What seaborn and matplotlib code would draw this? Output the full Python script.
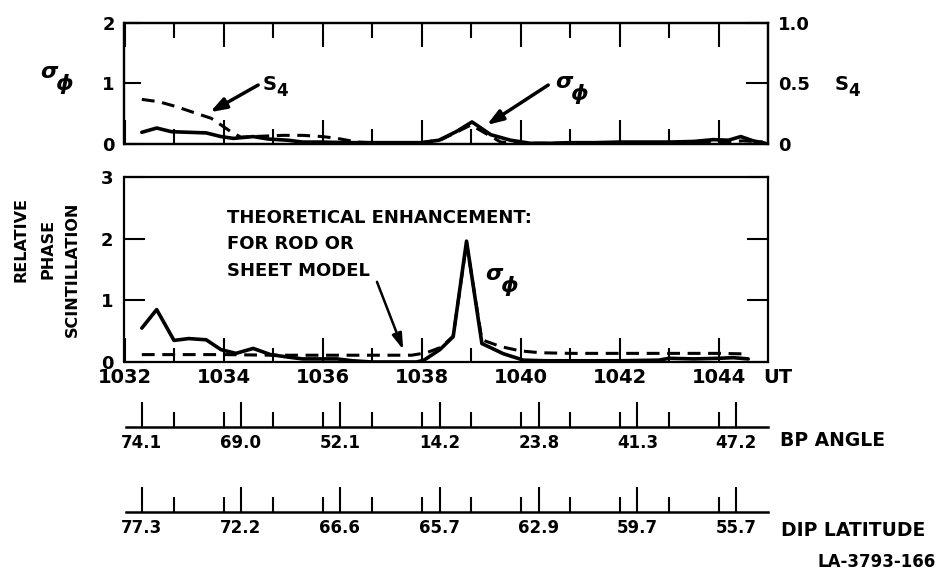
import matplotlib
matplotlib.use("Agg")
import matplotlib.pyplot as plt
import seaborn as sns

# ---------------- data ----------------
# Top panel: measured sigma_phi (left axis, 0-2) and S4 (right axis, 0-1)
top_sigma_t = [1032.35, 1032.65, 1032.95, 1033.3, 1033.65, 1033.95, 1034.2, 1034.6, 1034.9,
               1035.3, 1035.6, 1036.0, 1036.5, 1037.0, 1037.5, 1038.0, 1038.35, 1038.7,
               1039.02, 1039.4, 1039.8, 1040.2, 1040.6, 1041.0, 1041.5, 1042.0, 1042.5,
               1043.0, 1043.5, 1043.9, 1044.2, 1044.45, 1044.7, 1044.95]
top_sigma = [0.20, 0.27, 0.21, 0.20, 0.19, 0.13, 0.10, 0.13, 0.09,
             0.07, 0.04, 0.04, 0.03, 0.03, 0.03, 0.03, 0.07, 0.21,
             0.37, 0.16, 0.07, 0.02, 0.02, 0.03, 0.03, 0.04, 0.04,
             0.04, 0.05, 0.08, 0.07, 0.13, 0.06, 0.02]
top_s4_t = [1032.35, 1032.7, 1033.05, 1033.45, 1033.75, 1033.95, 1034.15, 1034.35, 1034.6,
            1034.9, 1035.2, 1035.6, 1036.0, 1036.3, 1036.7, 1037.0, 1037.5, 1038.0,
            1038.4, 1038.75, 1039.0, 1039.3, 1039.6, 1040.0, 1041.0, 1042.0, 1043.0,
            1044.0, 1044.5, 1044.9]
top_s4 = [0.37, 0.35, 0.31, 0.255, 0.215, 0.16, 0.105, 0.06, 0.065,
          0.07, 0.075, 0.075, 0.065, 0.05, 0.02, 0.015, 0.015, 0.015,
          0.04, 0.11, 0.16, 0.09, 0.02, 0.01, 0.01, 0.015, 0.015,
          0.02, 0.03, 0.02]

# Bottom panel: relative phase scintillation and theoretical enhancement
bot_sigma_t = [1032.35, 1032.65, 1033.0, 1033.3, 1033.65, 1033.95, 1034.25, 1034.6, 1034.95,
               1035.3, 1035.6, 1036.0, 1036.3, 1036.6, 1037.0, 1037.9, 1038.05, 1038.37,
               1038.64, 1038.91, 1039.22, 1039.65, 1040.06, 1040.5, 1041.0, 1042.0, 1042.8,
               1043.0, 1043.5, 1044.0, 1044.3, 1044.6]
bot_sigma = [0.55, 0.85, 0.35, 0.38, 0.36, 0.20, 0.14, 0.22, 0.12,
             0.08, 0.05, 0.05, 0.05, 0.02, 0.0, 0.0, 0.03, 0.20,
             0.41, 1.96, 0.30, 0.135, 0.03, 0.02, 0.02, 0.02, 0.03,
             0.06, 0.05, 0.06, 0.07, 0.05]
theory_t = [1032.35, 1033.0, 1034.0, 1035.0, 1036.0, 1037.0, 1037.8, 1038.1, 1038.4,
            1038.64, 1038.91, 1039.22, 1039.6, 1040.0, 1040.4, 1041.0, 1042.0, 1043.0,
            1044.0, 1044.6]
theory = [0.12, 0.12, 0.12, 0.11, 0.11, 0.11, 0.11, 0.15, 0.24,
          0.42, 1.93, 0.36, 0.25, 0.18, 0.15, 0.14, 0.14, 0.14,
          0.14, 0.13]

ut_major = [1032, 1034, 1036, 1038, 1040, 1042, 1044]
ut_minor = [1033, 1035, 1037, 1039, 1041, 1043]
ut_all = [1033, 1034, 1035, 1036, 1037, 1038, 1039, 1040, 1041, 1042, 1043, 1044]
ut_labels = ["1032", "1034", "1036", "1038", "1040", "1042", "1044"]
aux_pos = [1032.35, 1034.35, 1036.35, 1038.37, 1040.37, 1042.36, 1044.36]
bp_labels = ["74.1", "69.0", "52.1", "14.2", "23.8", "41.3", "47.2"]
dip_labels = ["77.3", "72.2", "66.6", "65.7", "62.9", "59.7", "55.7"]

# ---------------- style ----------------
sns.set_theme(style="ticks")
plt.rcParams['font.family'] = ['DejaVu Sans']
plt.rcParams['font.weight'] = 'bold'
plt.rcParams['axes.linewidth'] = 1.6
plt.rcParams['mathtext.fontset'] = 'dejavusans'
for k in ['text.color', 'axes.labelcolor', 'xtick.color', 'ytick.color',
          'axes.edgecolor', 'xtick.labelcolor', 'ytick.labelcolor']:
    plt.rcParams[k] = 'black'

W_PX, H_PX = 941, 571
fig = plt.figure(figsize=(9.41, 5.71), dpi=100)
fig.patch.set_facecolor('white')

def fx(px):
    return px / W_PX

def fy(py):
    return 1 - py / H_PX

L_PX, R_PX = 124.5, 768
left, width = fx(L_PX), (R_PX - L_PX) / W_PX
XLIM = (1032, 1045)
SOLID_LW = 2.6
DASH_LW = 2.2
DASH = (0, (4.2, 2.5))

# ---------------- top panel ----------------
ax1 = fig.add_axes([left, fy(144.5), width, (144.5 - 22.5) / H_PX])
sns.lineplot(x=top_sigma_t, y=top_sigma, ax=ax1, color='black', lw=SOLID_LW)
ax1.set_xlim(*XLIM)
ax1.set_ylim(0, 2)
ax1.set_xticks(ut_major)
ax1.set_xticks(ut_minor, minor=True)
ax1.tick_params(axis='x', which='major', direction='in', length=17, width=1.5,
                top=True, bottom=True, labelbottom=False)
ax1.tick_params(axis='x', which='minor', direction='in', length=11, width=1.5,
                top=True, bottom=True)
ax1.set_yticks([0, 1, 2])
ax1.set_yticklabels(['0', '1', '2'])
ax1.tick_params(axis='y', direction='in', length=12, width=1.5, labelsize=13, pad=7)
ax1.set_xlabel('')
ax1.set_ylabel('')

ax1r = ax1.twinx()
sns.lineplot(x=top_s4_t, y=top_s4, ax=ax1r, color='black', lw=DASH_LW, ls=DASH)
ax1r.set_ylim(0, 1.0)
ax1r.set_yticks([0, 0.5, 1.0])
ax1r.set_yticklabels(['0', '0.5', '1.0'])
ax1r.tick_params(axis='y', direction='in', length=16, width=1.5, labelsize=13, pad=7)
ax1r.set_ylabel('')
for sp in ax1r.spines.values():
    sp.set_linewidth(1.6)

# annotations in top panel
ax1.annotate('', xy=(1033.73, 0.53), xytext=(1034.70, 0.975),
             arrowprops=dict(arrowstyle='-|>,head_length=0.8,head_width=0.28',
                             color='black', lw=2.5, shrinkA=0, shrinkB=0),
             annotation_clip=False)
ax1.annotate('', xy=(1039.32, 0.32), xytext=(1040.56, 0.975),
             arrowprops=dict(arrowstyle='-|>,head_length=0.8,head_width=0.28',
                             color='black', lw=2.5, shrinkA=0, shrinkB=0),
             annotation_clip=False)

# ---------------- bottom panel ----------------
ax2 = fig.add_axes([left, fy(362), width, (362 - 177) / H_PX])
sns.lineplot(x=theory_t, y=theory, ax=ax2, color='black', lw=DASH_LW, ls=DASH)
sns.lineplot(x=bot_sigma_t, y=bot_sigma, ax=ax2, color='black', lw=SOLID_LW)
ax2.set_xlim(*XLIM)
ax2.set_ylim(0, 3)
ax2.set_xticks(ut_major)
ax2.set_xticklabels(ut_labels)
ax2.set_xticks(ut_minor, minor=True)
ax2.tick_params(axis='x', which='major', direction='in', length=17, width=1.5,
                top=False, bottom=True, labelsize=14, pad=4)
ax2.tick_params(axis='x', which='minor', direction='in', length=10, width=1.5,
                top=False, bottom=True)
ax2.set_yticks([0, 1, 2, 3])
ax2.set_yticklabels(['0', '1', '2', '3'])
ax2.tick_params(axis='y', direction='in', length=15, width=1.5, labelsize=13, pad=8,
                left=True, right=True, labelright=False)
ax2.set_xlabel('')
ax2.set_ylabel('')
ax2.annotate('UT', xy=(1045.2, 0), xycoords=('data', 'axes fraction'),
             xytext=(0, -4), textcoords='offset points', ha='center', va='top',
             fontsize=14, fontweight='bold', annotation_clip=False)
ax2.annotate('', xy=(1037.63, 0.2), xytext=(1037.10, 1.30),
             arrowprops=dict(arrowstyle='-|>,head_length=0.8,head_width=0.25',
                             color='black', lw=1.8, shrinkA=0, shrinkB=0))

# ---------------- auxiliary scales ----------------
def aux_axis(py, labels):
    ax = fig.add_axes([fx(126), fy(py), (R_PX - 126) / W_PX, 0.001])
    ax.set_xlim(1032 + (126 - L_PX) / 49.5, XLIM[1])
    for s in ['top', 'left', 'right']:
        ax.spines[s].set_visible(False)
    ax.spines['bottom'].set_linewidth(1.8)
    ax.patch.set_alpha(0)
    ax.set_yticks([])
    ax.set_xticks(aux_pos)
    ax.set_xticklabels(labels)
    ax.set_xticks(ut_all, minor=True)
    ax.tick_params(axis='x', which='major', direction='in', length=18, width=1.5,
                   labelsize=12, pad=5)
    ax.tick_params(axis='x', which='minor', direction='in', length=10.5, width=1.5)
    return ax

aux_axis(427, bp_labels)
aux_axis(512, dip_labels)

# ---------------- texts ----------------
fig.text(fx(780), fy(441), 'BP ANGLE', ha='left', va='center', fontsize=13.5, fontweight='bold')
fig.text(fx(781), fy(531), 'DIP LATITUDE', ha='left', va='center', fontsize=13.5, fontweight='bold')
fig.text(fx(936), fy(562), 'LA-3793-166', ha='right', va='center', fontsize=12, fontweight='bold')

for txt, py in [('THEORETICAL ENHANCEMENT:', 218), ('FOR ROD OR', 244), ('SHEET MODEL', 271)]:
    fig.text(fx(227), fy(py), txt, ha='left', va='center', fontsize=13, fontweight='bold')

fig.text(fx(21), fy(240), 'RELATIVE', rotation=90, ha='center', va='center', fontsize=11.5, fontweight='bold')
fig.text(fx(48), fy(249), 'PHASE', rotation=90, ha='center', va='center', fontsize=11.5, fontweight='bold')
fig.text(fx(72), fy(269), 'SCINTILLATION', rotation=90, ha='center', va='center', fontsize=11.5, fontweight='bold')

def sigma_phi(px, py, size=16):
    fig.text(fx(px), fy(py), r'$\sigma$', ha='left', va='center', fontsize=size)
    fig.text(fx(px + 15), fy(py + 12), r'$\phi$', ha='left', va='center', fontsize=size)

def s4(px, py):
    fig.text(fx(px), fy(py), 'S', ha='left', va='center', fontsize=14, fontweight='bold')
    fig.text(fx(px + 13), fy(py + 7), '4', ha='left', va='center', fontsize=12, fontweight='bold')

sigma_phi(40, 72)
sigma_phi(555, 82)
sigma_phi(485, 274)
s4(263, 84)
s4(835, 84)

fig.savefig('out.png', dpi=100, facecolor='white')
